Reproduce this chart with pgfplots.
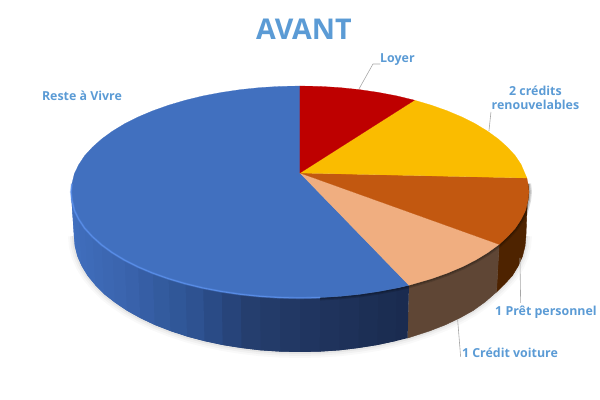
\documentclass[border=0pt]{standalone}
\usepackage{pgfplots}
\pgfplotsset{compat=1.18}
\usepackage{fontspec}
\setmainfont{Open Sans}
\definecolor{txt}{HTML}{5B9BD5}
\definecolor{leader}{HTML}{A6A6A6}
\definecolor{loyer}{RGB}{190,0,0}
\definecolor{credits}{RGB}{250,188,0}
\definecolor{pret}{RGB}{194,88,16}
\definecolor{voiture}{RGB}{240,174,128}
\definecolor{reste}{RGB}{65,112,191}
\definecolor{bevel}{RGB}{92,146,238}
% each band runs under the next one, so no seams show
\newcommand\band[4]{\addplot[fill={rgb,255:red,#1;green,#2;blue,#3},draw=none] coordinates {#4} --cycle;}
\newcommand\lab[2]{\node[txt,font=\fontsize{12.4}{14.4}\selectfont\bfseries,align=center] at (axis cs:#1) {#2};}
\pgfplotstableread{
x y
526 236
525.1 246.1
522.6 256.2
518.3 266
512.4 275.7
504.8 284
496.6 292
485.1 302
473.1 310.6
459.8 318
445.3 324.9
429.6 331
407.6 338.1
395.5 341.1
377.3 345
358.5 348
339.3 350.3
319.7 351.6
300 352
280.3 351.6
260.7 350.3
241.5 348
222.7 345
204.5 341.1
187 336.5
170.4 331
154.7 324.9
140.2 318
126.9 310.6
114.9 302.5
104 294
95.2 285
87.6 275.7
81.7 266
77.4 256.2
74.9 246.1
74 236
}\bottomrim
\pgfplotstableread{
x y
528.1 183.8
529 192
528.1 200.2
525.6 210.4
521.2 219.4
515.3 228.3
507.5 236.8
499.2 244.4
487.6 252.8
475.4 260.2
461.9 267
447.2 273.2
431.4 278.8
409 285.3
396.8 288.1
378.3 291.6
359.3 294.4
339.8 296.4
320 297.6
}\darkrim
\pgfplotstableread{
x y
320 297.6
300 298
280 297.6
260.2 296.4
240.7 294.4
221.7 291.6
203.2 288.1
185.5 283.8
168.6 278.8
152.8 273.2
138.1 267
124.6 260.2
112.4 252.8
101.7 245
92.5 236.8
84.7 228.3
78.8 219.4
74.4 210.4
71.9 200.2
71 192
71.9 183.8
}\frontrim
\begin{document}
\begin{tikzpicture}
\begin{axis}[
  scale only axis, width=600pt, height=400pt,
  xmin=0, xmax=600, ymin=0, ymax=400, y dir=reverse,
  hide axis, clip=false,
]
\path (axis cs:0,0) rectangle (axis cs:600,400);
% soft shadow under the pie
\addplot[black,opacity=0.025,line width=12pt] table {\bottomrim};
\addplot[black,opacity=0.03,line width=8pt] table {\bottomrim};
\addplot[black,opacity=0.05,line width=4pt] table {\bottomrim};
% side, dark brown then peach
\addplot[fill={rgb,255:red,78;green,35;blue,0},draw={rgb,255:red,78;green,35;blue,0},line width=0.4pt] coordinates {(528.1,183.8)(529,192)(528.1,200.2)(525.6,210.4)(521.2,219.4)(515.3,228.3)(507.5,236.8)(499.2,244.4)(496.6,292)(504.8,284)(512.4,275.7)(518.3,266)(522.6,256.2)(525.1,246.1)(526,236)} --cycle;
\addplot[fill={rgb,255:red,95;green,70;blue,53},draw={rgb,255:red,95;green,70;blue,53},line width=0.4pt] coordinates {(499.2,244.4)(487.6,252.8)(475.4,260.2)(461.9,267)(447.2,273.2)(431.4,278.8)(409,285.3)(407.6,338.1)(429.6,331)(445.3,324.9)(459.8,318)(473.1,310.6)(485.1,302)(496.6,292)} --cycle;
% side of the blue slice, shaded in bands
\band{26}{43}{80}{(409,285.3)(396.8,288.1)(378.3,291.6)(377.3,345)(395.5,341.1)(407.6,338.1)}
\band{27}{45}{82}{(396.8,288.1)(378.3,291.6)(359.3,294.4)(358.5,348)(377.3,345)(395.5,341.1)}
\band{28}{47}{85}{(378.3,291.6)(359.3,294.4)(339.8,296.4)(339.3,350.3)(358.5,348)(377.3,345)}
\band{30}{49}{89}{(359.3,294.4)(339.8,296.4)(320,297.6)(319.7,351.6)(339.3,350.3)(358.5,348)}
\band{31}{51}{92}{(339.8,296.4)(320,297.6)(300,298)(300,352)(319.7,351.6)(339.3,350.3)}
\band{32}{53}{96}{(320,297.6)(300,298)(280,297.6)(280.3,351.6)(300,352)(319.7,351.6)}
\band{34}{56}{100}{(300,298)(280,297.6)(260.2,296.4)(260.7,350.3)(280.3,351.6)(300,352)}
\band{35}{59}{105}{(280,297.6)(260.2,296.4)(240.7,294.4)(241.5,348)(260.7,350.3)(280.3,351.6)}
\band{37}{62}{110}{(260.2,296.4)(240.7,294.4)(221.7,291.6)(222.7,345)(241.5,348)(260.7,350.3)}
\band{39}{68}{122}{(240.7,294.4)(221.7,291.6)(203.2,288.1)(204.5,341.1)(222.7,345)(241.5,348)}
\band{42}{75}{134}{(221.7,291.6)(203.2,288.1)(185.5,283.8)(187,336.5)(204.5,341.1)(222.7,345)}
\band{46}{82}{145}{(203.2,288.1)(185.5,283.8)(168.6,278.8)(170.4,331)(187,336.5)(204.5,341.1)}
\band{48}{87}{152}{(185.5,283.8)(168.6,278.8)(152.8,273.2)(154.7,324.9)(170.4,331)(187,336.5)}
\band{51}{91}{158}{(168.6,278.8)(152.8,273.2)(138.1,267)(140.2,318)(154.7,324.9)(170.4,331)}
\band{54}{94}{165}{(152.8,273.2)(138.1,267)(124.6,260.2)(126.9,310.6)(140.2,318)(154.7,324.9)}
\band{57}{98}{171}{(138.1,267)(124.6,260.2)(112.4,252.8)(114.9,302.5)(126.9,310.6)(140.2,318)}
\band{59}{101}{175}{(124.6,260.2)(112.4,252.8)(101.7,245)(104,294)(114.9,302.5)(126.9,310.6)}
\band{60}{103}{178}{(112.4,252.8)(101.7,245)(92.5,236.8)(95.2,285)(104,294)(114.9,302.5)}
\band{61}{105}{181}{(101.7,245)(92.5,236.8)(84.7,228.3)(87.6,275.7)(95.2,285)(104,294)}
\band{62}{107}{184}{(92.5,236.8)(84.7,228.3)(78.8,219.4)(81.7,266)(87.6,275.7)(95.2,285)}
\band{63}{108}{186}{(84.7,228.3)(78.8,219.4)(74.4,210.4)(77.4,256.2)(81.7,266)(87.6,275.7)}
\band{64}{110}{188}{(78.8,219.4)(74.4,210.4)(71.9,200.2)(74.9,246.1)(77.4,256.2)(81.7,266)}
\band{65}{111}{190}{(74.4,210.4)(71.9,200.2)(71,192)(74,236)(74.9,246.1)(77.4,256.2)}
\band{65}{112}{192}{(71.9,200.2)(71,192)(74,236)(74.9,246.1)}
% dark blur just under the rim of the right part
\addplot[black,opacity=0.14,line width=6pt] table {\darkrim};
\addplot[black,opacity=0.18,line width=3.5pt] table {\darkrim};
% top of the slices
\addplot[fill=reste,draw=reste,line width=0.2pt] coordinates {(300,173)(409,285.3)(396.8,288.1)(378.3,291.6)(359.3,294.4)(339.8,296.4)(320,297.6)(300,298)(280,297.6)(260.2,296.4)(240.7,294.4)(221.7,291.6)(203.2,288.1)(185.5,283.8)(168.6,278.8)(152.8,273.2)(138.1,267)(124.6,260.2)(112.4,252.8)(101.7,245)(92.5,236.8)(84.7,228.3)(78.8,219.4)(74.4,210.4)(71.9,200.2)(71,192)(71.9,183.8)(74.4,173.6)(78.8,164.6)(84.7,155.7)(92.5,147.2)(101.7,139)(112.4,131.2)(124.6,123.8)(138.1,117)(152.8,110.8)(168.6,105.2)(185.5,100.2)(203.2,95.9)(221.7,92.4)(240.7,89.6)(260.2,87.6)(280,86.4)(300,86)} --cycle;
\addplot[fill=voiture,draw=voiture,line width=0.2pt] coordinates {(300,173)(499.2,244.4)(487.6,252.8)(475.4,260.2)(461.9,267)(447.2,273.2)(431.4,278.8)(409,285.3)} --cycle;
\addplot[fill=pret,draw=pret,line width=0.2pt] coordinates {(300,173)(526.9,178)(528.1,183.8)(529,192)(528.1,200.2)(525.6,210.4)(521.2,219.4)(515.3,228.3)(507.5,236.8)(499.2,244.4)} --cycle;
\addplot[fill=credits,draw=credits,line width=0.2pt] coordinates {(300,173)(414.5,100.2)(431.4,105.2)(447.2,110.8)(461.9,117)(475.4,123.8)(487.6,131.2)(498.3,139)(507.5,147.2)(515.3,155.7)(521.2,164.6)(526.9,178)} --cycle;
\addplot[fill=loyer,draw=loyer,line width=0.2pt] coordinates {(300,173)(300,86)(320,86.4)(339.8,87.6)(359.3,89.6)(378.3,92.4)(396.8,95.9)(414.5,100.2)} --cycle;
% bevel highlight on the front edge
\addplot[bevel,opacity=0.35,line width=2.2pt] table {\frontrim};
\addplot[bevel,opacity=0.8,line width=1pt] table {\frontrim};
% leader lines
\addplot[leader,line width=0.6pt] coordinates {(380.5,64)(373,64)(359,89)};
\addplot[leader,line width=0.6pt] coordinates {(491,112)(489,131)};
\addplot[leader,line width=0.6pt] coordinates {(520.7,303)(520,258)};
\addplot[leader,line width=0.6pt] coordinates {(460.7,357)(457.7,320)};
% texts
\node[txt,font=\fontsize{28.6}{32}\selectfont\bfseries] at (axis cs:304,29) {AVANT};
\lab{397.5,60}{Loyer}
\lab{535.5,98}{2 crédits\\renouvelables}
\lab{546,312}{1 Prêt personnel}
\lab{510,353}{1 Crédit voiture}
\lab{82,96}{Reste à Vivre}
\end{axis}
\end{tikzpicture}
\end{document}
